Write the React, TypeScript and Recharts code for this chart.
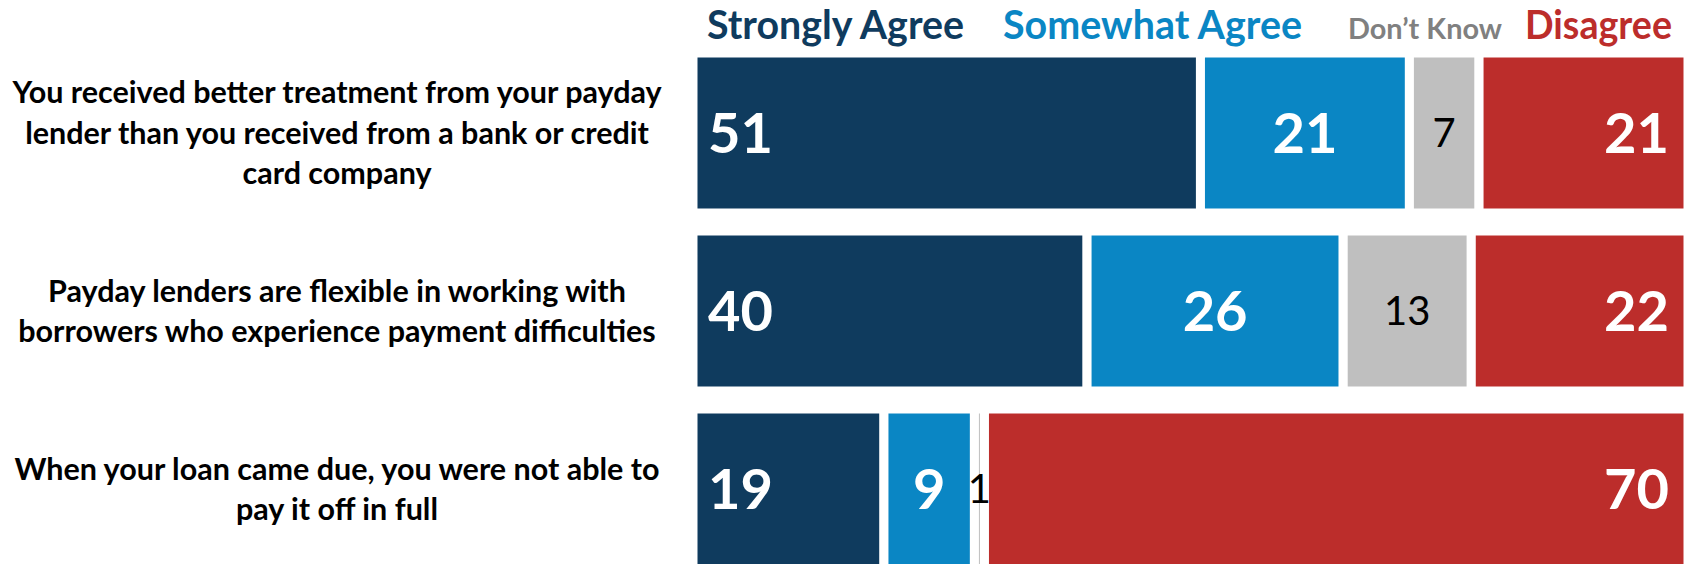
import { BarChart, Bar, XAxis, YAxis, LabelList } from 'recharts';

// questions, "|" marks a line break in the axis label
const questions = [
  'You received better treatment from your payday|lender than you received from a bank or credit|card company',
  'Payday lenders are flexible in working with|borrowers who experience payment difficulties',
  'When your loan came due, you were not able to|pay it off in full',
];

const stronglyAgree = [51, 40, 19];
const somewhatAgree = [21, 26, 9];
const dontKnow = [7, 13, 1];
const disagree = [21, 22, 70];

const series = [
  { key: 'strongly', name: 'Strongly Agree', color: '#0F3B5E', legendColor: '#0F3B5E', labelPos: 'left', labelColor: '#fff', big: true, legendX: 707, legendW: 257 },
  { key: 'somewhat', name: 'Somewhat Agree', color: '#0A86C4', legendColor: '#0A86C4', labelPos: 'center', labelColor: '#fff', big: true, legendX: 1003, legendW: 299 },
  { key: 'dontKnow', name: 'Don\u2019t Know', color: '#BFBFBF', legendColor: '#808080', labelPos: 'center', labelColor: '#000', big: false, legendX: 1348, legendW: 154 },
  { key: 'disagree', name: 'Disagree', color: '#BC2D2B', legendColor: '#BC2D2B', labelPos: 'right', labelColor: '#fff', big: true, legendX: 1525, legendW: 147 },
];

const data = questions.map((q, i) => ({
  question: q,
  strongly: stronglyAgree[i],
  somewhat: somewhatAgree[i],
  dontKnow: dontKnow[i],
  disagree: disagree[i],
}));

const FONT = 'Lato, "Open Sans", sans-serif';

const QuestionTick = (props: any) => {
  const { y, payload } = props;
  const lines = String(payload.value).split('|');
  const lineH = 40.5;
  const top = y - ((lines.length - 1) * lineH) / 2;
  return (
    <g>
      {lines.map((line, i) => (
        <text
          key={i}
          x={337}
          y={top + i * lineH}
          dy="0.36em"
          textAnchor="middle"
          fontSize={30.5}
          fontWeight={700}
          fill="#000"
          fontFamily={FONT}
        >
          {line}
        </text>
      ))}
    </g>
  );
};

const makeLabel = (pos: string, color: string, big: boolean) => (props: any) => {
  const { x, y, width, height, value } = props;
  let tx = x + width / 2;
  let anchor: 'start' | 'middle' | 'end' = 'middle';
  if (pos === 'left') {
    tx = x + 15;
    anchor = 'start';
  } else if (pos === 'right') {
    tx = x + width - 19;
    anchor = 'end';
  }
  return (
    <text
      x={tx}
      y={y + height / 2}
      dy="0.36em"
      textAnchor={anchor}
      fill={color}
      fontSize={big ? 56 : 40}
      fontWeight={big ? 700 : 400}
      fontFamily={FONT}
    >
      {value}
    </text>
  );
};

export default function App() {
  return (
    <div
      style={{
        position: 'absolute',
        left: 0,
        top: 0,
        width: 1689,
        height: 564,
        overflow: 'hidden',
        background: '#fff',
        fontFamily: FONT,
      }}
    >
      {/* legend across the top */}
      <svg width={1689} height={50} style={{ position: 'absolute', left: 0, top: 0 }}>
        {series.map((s) => (
          <text
            key={s.key}
            x={s.legendX}
            y={39}
            fill={s.legendColor}
            fontSize={s.big ? 40 : 29}
            fontWeight={700}
            fontFamily={FONT}
            textLength={s.legendW}
            lengthAdjust="spacingAndGlyphs"
          >
            {s.name}
          </text>
        ))}
      </svg>
      <BarChart
        width={1689}
        height={578}
        data={data}
        layout="vertical"
        stackOffset="expand"
        margin={{ top: 44, right: 1, bottom: 0, left: 0 }}
        style={{ position: 'absolute', left: 0, top: 0 }}
      >
        <XAxis type="number" domain={[0, 1]} hide />
        <YAxis
          type="category"
          dataKey="question"
          width={693}
          axisLine={false}
          tickLine={false}
          interval={0}
          tick={<QuestionTick />}
        />
        {series.map((s) => (
          <Bar
            key={s.key}
            dataKey={s.key}
            name={s.name}
            stackId="a"
            fill={s.color}
            stroke="#fff"
            strokeWidth={9}
            barSize={160}
            isAnimationActive={false}
          >
            <LabelList dataKey={s.key} content={makeLabel(s.labelPos, s.labelColor, s.big)} />
          </Bar>
        ))}
      </BarChart>
    </div>
  );
}
